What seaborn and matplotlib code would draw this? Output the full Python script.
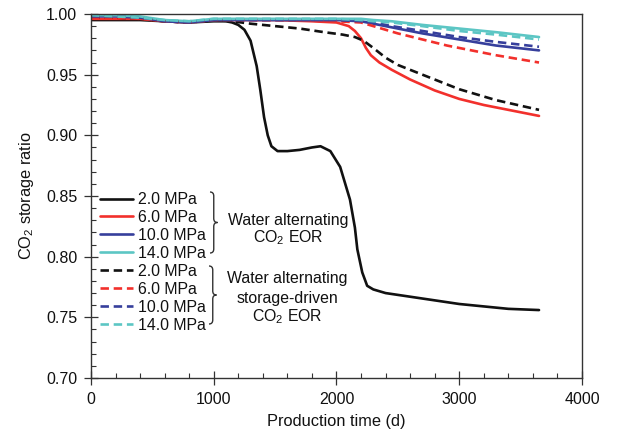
import matplotlib
matplotlib.use("Agg")
import matplotlib.pyplot as plt
import seaborn as sns
from matplotlib.lines import Line2D
from matplotlib.path import Path
from matplotlib.patches import PathPatch

# ---------------- data ----------------
bs_days = [0, 200, 400, 600, 800, 1000, 1100, 1150, 1200, 1250, 1300, 1350, 1380, 1410, 1440, 1470,
           1520, 1600, 1700, 1800, 1870, 1950, 2030, 2110, 2150, 2170, 2210, 2250, 2300, 2400, 2600,
           2800, 3000, 3200, 3400, 3650]
bs_vals = [0.995, 0.995, 0.995, 0.994, 0.993, 0.994, 0.994, 0.993, 0.991, 0.987, 0.978, 0.957, 0.937,
           0.915, 0.900, 0.891, 0.887, 0.887, 0.888, 0.890, 0.891, 0.887, 0.874, 0.847, 0.824, 0.806,
           0.787, 0.776, 0.773, 0.770, 0.767, 0.764, 0.761, 0.759, 0.757, 0.756]

rs_days = [0, 200, 400, 600, 800, 1000, 1200, 1500, 1800, 2000, 2100, 2150, 2200, 2240, 2280, 2350,
           2450, 2600, 2800, 3000, 3200, 3400, 3650]
rs_vals = [0.996, 0.996, 0.996, 0.994, 0.993, 0.995, 0.995, 0.995, 0.994, 0.993, 0.990, 0.986, 0.980,
           0.972, 0.966, 0.960, 0.954, 0.946, 0.937, 0.930, 0.925, 0.921, 0.916]

bd_days = [0, 200, 400, 600, 800, 1000, 1150, 1300, 1500, 1700, 1900, 2050, 2150, 2220, 2300, 2400,
           2500, 2750, 3000, 3300, 3650]
bd_vals = [0.997, 0.997, 0.996, 0.994, 0.993, 0.995, 0.994, 0.992, 0.990, 0.988, 0.985, 0.983, 0.981,
           0.978, 0.972, 0.964, 0.958, 0.948, 0.938, 0.929, 0.921]

rd_days = [0, 200, 400, 600, 800, 1000, 1200, 1600, 2000, 2200, 2300, 2500, 2700, 2900, 3100, 3300, 3650]
rd_vals = [0.997, 0.997, 0.996, 0.994, 0.993, 0.995, 0.995, 0.995, 0.994, 0.993, 0.990, 0.984, 0.979,
           0.974, 0.970, 0.966, 0.960]

hp_days = [0, 200, 400, 600, 800, 1000, 1200, 1600, 2000, 2200, 2300, 2450, 2700, 3000, 3300, 3650]
bls_vals = [0.998, 0.998, 0.997, 0.994, 0.993, 0.995, 0.995, 0.995, 0.995, 0.994, 0.992, 0.989, 0.984,
            0.979, 0.974, 0.970]
bld_vals = [0.998, 0.998, 0.997, 0.994, 0.993, 0.995, 0.995, 0.995, 0.995, 0.994, 0.993, 0.990, 0.986,
            0.981, 0.977, 0.973]
cs_vals = [0.999, 0.999, 0.998, 0.995, 0.994, 0.996, 0.996, 0.996, 0.996, 0.996, 0.995, 0.994, 0.991,
           0.988, 0.985, 0.981]
cd_vals = [0.999, 0.998, 0.997, 0.995, 0.994, 0.996, 0.996, 0.996, 0.996, 0.995, 0.994, 0.993, 0.990,
           0.986, 0.983, 0.979]

pressures = ["2.0 MPa", "6.0 MPa", "10.0 MPa", "14.0 MPa"]
group1 = ["Water alternating", "CO$_2$ EOR"]
group2 = ["Water alternating", "storage-driven", "CO$_2$ EOR"]
x_ticks = [0, 1000, 2000, 3000, 4000]
y_ticks = [0.70, 0.75, 0.80, 0.85, 0.90, 0.95, 1.00]

# ---------------- style ----------------
sns.set_theme(style="white")
plt.rcParams["font.family"] = ["Liberation Sans", "DejaVu Sans"]
plt.rcParams["mathtext.default"] = "regular"

colors = ["#111111", "#f2302c", "#363f9c", "#5cc6c4"]
DASH = (3.2, 1.8)
LW = 1.9
FS = 11.4

fig = plt.figure(figsize=(6.27, 4.33), dpi=100)
ax = fig.add_axes([0.1451, 0.127, 0.7831, 0.8407])

solid = [(bs_days, bs_vals), (rs_days, rs_vals), (hp_days, bls_vals), (hp_days, cs_vals)]
dashed = [(bd_days, bd_vals), (rd_days, rd_vals), (hp_days, bld_vals), (hp_days, cd_vals)]

for (d, v), c in zip(solid, colors):
    sns.lineplot(x=d, y=v, ax=ax, color=c, lw=LW, sort=False, estimator=None, legend=False)
for (d, v), c in zip(dashed, colors):
    sns.lineplot(x=d, y=v, ax=ax, color=c, lw=LW, sort=False, estimator=None, legend=False)
    ax.lines[-1].set_dashes(DASH)

ax.set_xlim(0, 4000)
ax.set_ylim(0.70, 1.00)
ax.set_xticks(x_ticks)
ax.set_yticks(y_ticks)
ax.set_xticklabels([str(t) for t in x_ticks])
ax.set_yticklabels([f"{t:.2f}" for t in y_ticks])
ax.set_xticks(range(0, 4001, 200), minor=True)
ax.set_yticks([0.70 + 0.01 * i for i in range(31)], minor=True)
ax.tick_params(axis="both", which="major", direction="inout", length=9.5, width=0.9,
               color="#333333", labelsize=11.5, labelcolor="#111111", pad=5.2,
               bottom=True, left=True)
ax.tick_params(axis="both", which="minor", direction="in", length=3.5, width=0.8,
               color="#333333", bottom=True, left=True)
for s in ax.spines.values():
    s.set_color("#333333")
    s.set_linewidth(1.0)
ax.set_xlabel("Production time (d)", fontsize=11.8, color="#111111", labelpad=5)
ax.set_ylabel("CO$_2$ storage ratio", fontsize=11.8, color="#111111", labelpad=7)

# legend
handles = [Line2D([], [], color=c, lw=LW) for c in colors] + \
          [Line2D([], [], color=c, lw=LW, dashes=DASH) for c in colors]
labels = pressures + pressures
leg = ax.legend(handles, labels, loc="upper left", bbox_to_anchor=(89 / 627, 1 - 181 / 433),
                bbox_transform=fig.transFigure, frameon=False, fontsize=FS,
                handlelength=2.1, handletextpad=0.32, labelspacing=0.185, borderpad=0.2)
for t in leg.get_texts():
    t.set_color("#111111")

# braces
H = 433.0
W = 627.0

def brace(x0, top, bot, w=7.5, r=4.0):
    ym = (top + bot) / 2
    yt, yb, yc = H - top, H - bot, H - ym
    xm = x0 + w / 2
    verts = [(x0, yt), (xm, yt), (xm, yt - r),
             (xm, yc + r), (xm, yc), (x0 + w, yc),
             (xm, yc), (xm, yc - r),
             (xm, yb + r), (xm, yb), (x0, yb)]
    codes = [Path.MOVETO, Path.CURVE3, Path.CURVE3,
             Path.LINETO, Path.CURVE3, Path.CURVE3,
             Path.CURVE3, Path.CURVE3,
             Path.LINETO, Path.CURVE3, Path.CURVE3]
    verts = [(vx / W, vy / H) for vx, vy in verts]
    p = PathPatch(Path(verts, codes), fill=False, lw=1.0, edgecolor="#333333",
                  transform=fig.transFigure)
    fig.add_artist(p)

brace(210, 192, 253)
brace(209, 266, 324)

for txt, py in zip(group1, [220, 238]):
    fig.text(288 / W, 1 - py / H, txt, ha="center", va="center", fontsize=FS, color="#111111")
for txt, py in zip(group2, [278, 298, 317]):
    fig.text(287 / W, 1 - py / H, txt, ha="center", va="center", fontsize=FS, color="#111111")

fig.savefig("out.png", dpi=100)
